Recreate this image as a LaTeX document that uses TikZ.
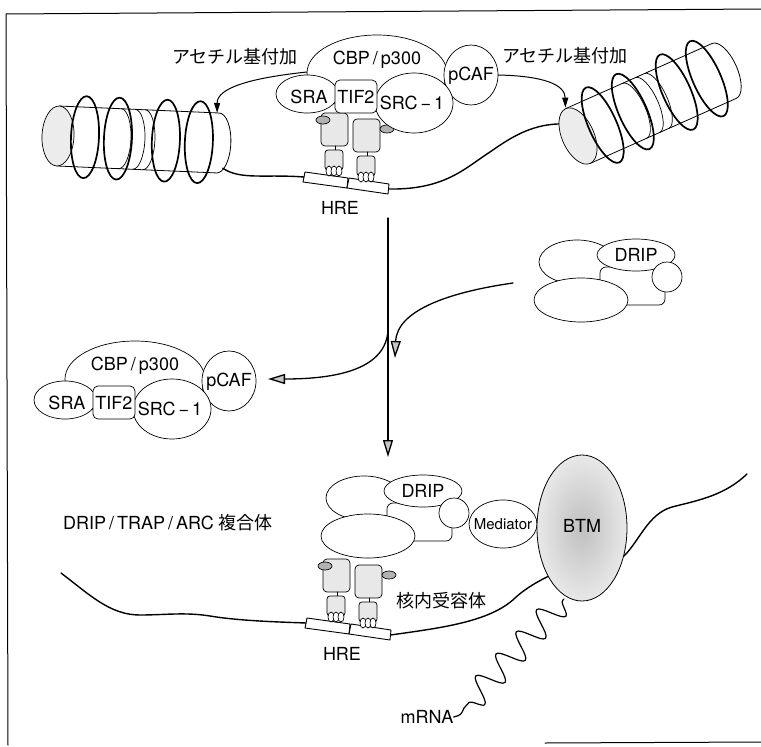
\documentclass[tikz,border=0pt]{standalone}
\usepackage{fontspec}
\setmainfont{TeX Gyre Heros}
\newfontfamily\jp{Noto Sans CJK JP}
\usetikzlibrary{arrows.meta}
\usetikzlibrary{decorations.pathmorphing}

\tikzset{
  mol/.style={draw, line width=0.7pt, fill=white},
  dna/.style={line width=1.4pt},
  dnaloop/.style={line width=1.7pt},
  lab/.style={font=\fontsize{18}{20}\selectfont, inner sep=0pt},
  jlab/.style={font=\jp\fontsize{18}{20}\selectfont, inner sep=0pt},
  thinarrow/.style={line width=1pt, -{Triangle[length=10pt, width=6pt]}},
  bigarrow/.style={line width=1.3pt, -{Triangle[length=17pt, width=10pt, fill=gray!45]}},
}

% chromatin fibre: #1 centre of front face, #2 tilt, #3 name
\newcommand\nucleosome[3]{%
\begin{scope}[shift={#1}, rotate=#2]
\filldraw[mol, line width=0.8pt] (0,-30) -- (160,-30) arc (-90:90:13 and 30) -- (0,30) -- cycle;
\foreach \sx in {62,76,86} \draw[mol, fill=none] (\sx,-30) arc (-90:90:11 and 30);
\filldraw[mol, fill=gray!15] (0,0) ellipse (16 and 30);
\foreach \lx in {27,60,108,141} \draw[dnaloop] (\lx,0) ellipse (14 and 41);
\coordinate (#3-tail) at (166,25);
\coordinate (#3-head) at (-13,-19);
\coordinate (#3-backtop) at (158,-30);
\coordinate (#3-fronttop) at (0,-31);
\end{scope}}

% one receptor, #1 = foot of the DNA binding domain
\newcommand\receptor[1]{%
\begin{scope}[shift={#1}]
\filldraw[mol, fill=gray!18, rounded corners=4] (-13,-63) rectangle (14,-30);
\draw[mol] (1,-30) -- (1,-26);
\filldraw[mol, fill=gray!18, rounded corners=3] (-9,-26) rectangle (9,-6);
\foreach \fx in {-5,0,5} \filldraw[mol] (\fx,-5) ellipse (3 and 5);
\end{scope}}

% receptor dimer on the HRE, #1 = middle of the HRE, #2 name
\newcommand\dimer[2]{%
\begin{scope}[shift={#1}]
\filldraw[mol, line width=0.9pt] (-42,-10) -- (1,-4) -- (0,6) -- (-44,0) -- cycle;
\filldraw[mol, line width=0.9pt] (2,-4) -- (42,2) -- (41,12) -- (0,6) -- cycle;
\receptor{(19,0)}
\receptor{(-13,-6)}
\filldraw[mol, fill=gray!60] (-24,-62) ellipse (7 and 4);
\filldraw[mol, fill=gray!60] (40,-53) ellipse (7 and 4);
\coordinate (#2-in) at (-43,-5);
\coordinate (#2-out) at (41.5,7);
\node[lab] (#2-hre) at (-7,26) {HRE};
\end{scope}}

% coactivator complex, #1 shift, #2 name
\newcommand\coact[2]{%
\begin{scope}[shift={#1}]
\filldraw[mol] (377,73) ellipse (70 and 38);
\filldraw[mol] (471,75) ellipse (27 and 30);
\filldraw[mol] (307,94) ellipse (31 and 19);
\filldraw[mol] (414,103) ellipse (39 and 30);
\filldraw[mol, rounded corners=5] (335,80) rectangle (377,113);
\node[lab] (#2-cbp) at (377,60) {CBP\,/\,p300};
\node[lab] (#2-sra) at (309,97) {SRA};
\node[lab] (#2-tif) at (356,97) {TIF2};
\node[lab] (#2-src) at (412,103) {SRC\,−\,1};
\node[lab] (#2-pcaf) at (471,76) {pCAF};
\coordinate (#2-w) at (307,72);
\coordinate (#2-e) at (498,75);
\end{scope}}

% DRIP complex, #1 = centre of the DRIP subunit, #2 name
\newcommand\drip[2]{%
\begin{scope}[shift={#1}]
\filldraw[mol] (-59,7) ellipse (38 and 22);
\filldraw[mol, rounded corners=6] (-36,12) rectangle (29,50);
\filldraw[mol] (-55,45) ellipse (47 and 22);
\filldraw[mol] (0,0) ellipse (39 and 16);
\filldraw[mol] (31,22) circle (15);
\node[lab] (#2-drip) at (0,0) {DRIP};
\end{scope}}

\begin{document}
\begin{tikzpicture}[x=1pt,y=-1pt,line cap=round,line join=round]
\useasboundingbox (0,0) rectangle (761,747);
% frame
\draw[line width=1pt] (761,9) -- (6,14) -- (8,745);
\draw[line width=1pt] (545,743) -- (761,742);
%
% top: acetylation of the chromatin
\nucleosome{(58,136)}{-2.5}{nl}
\nucleosome{(578,136)}{24}{nr}
\dimer{(347,182)}{top}
\draw[dna] (nl-tail) .. controls +(18,12) and +(-40,-3) .. (top-in);
\draw[dna] (top-out) .. controls (445,190) and (465,168) .. (490,152)
  .. controls (510,138) and (530,125) .. (nr-head);
\coact{(0,0)}{up}
\draw[thinarrow] (up-w) .. controls (250,78) and (217,88) .. (nl-backtop);
\draw[thinarrow] (up-e) .. controls (545,76) and (565,85) .. (nr-fronttop);
\node[jlab] (acl) at (235,57) {アセチル基付加};
\node[jlab] (acr) at (565,56) {アセチル基付加};
%
% middle: exchange of the complexes
\coordinate (down-top) at (388,218);
\coordinate (down-tip) at (388,457);
\coordinate (branch) at (388,330);
\coordinate (drip-start) at (513,283);
\draw[bigarrow] (down-top) -- (down-tip);
\drip{(636,255)}{free}
\coact{(-242,306)}{off}
\draw[bigarrow] (branch) .. controls (386,368) and (340,379) .. (268,379);
\draw[bigarrow] (drip-start) .. controls (450,292) and (397,310) .. (395,358);
%
% bottom: DRIP bound to the receptor
\coordinate (dna-l) at (61,573);
\coordinate (dna-r) at (747,474);
\coordinate (btm-foot) at (564,599);
\coordinate (mrna-end) at (464,708);
\dimer{(349,628)}{bot}
\draw[dna] (dna-l) .. controls (90,595) and (110,615) .. (140,615)
  .. controls (165,615) and (185,612) .. (210,616)
  .. controls (240,621) and (280,622) .. (bot-in);
\draw[dna] (bot-out) .. controls (440,628) and (490,622) .. (515,598)
  .. controls (530,584) and (560,568) .. (590,562)
  .. controls (605,560) and (615,562) .. (624,556)
  .. controls (640,540) and (648,514) .. (672,507)
  .. controls (700,500) and (725,495) .. (dna-r);
\drip{(423,491)}{on}
\filldraw[mol] (503,524) ellipse (34 and 24);
\node[font=\fontsize{15}{17}\selectfont, inner sep=0pt] (med) at (503,524) {Mediator};
\shadedraw[inner color=gray!50, outer color=gray!18, line width=0.8pt] (582,528) ellipse (45 and 73);
\node[lab] (btm) at (582,526) {BTM};
\node[lab] (mrna) at (427,717) {mRNA};
\draw[line width=1.2pt, decorate, decoration={snake, amplitude=13pt, segment length=30pt, pre length=2pt, post length=3pt}] (btm-foot) -- (mrna-end);
\draw[line width=1.2pt] (mrna-end) .. controls +(-3,7) .. (mrna.east);
\node[lab] (trap) at (168,523) {DRIP\,/\,TRAP\,/\,ARC {\jp 複合体}};
\node[jlab] (nr) at (441,601) {核内受容体};
\end{tikzpicture}
\end{document}
